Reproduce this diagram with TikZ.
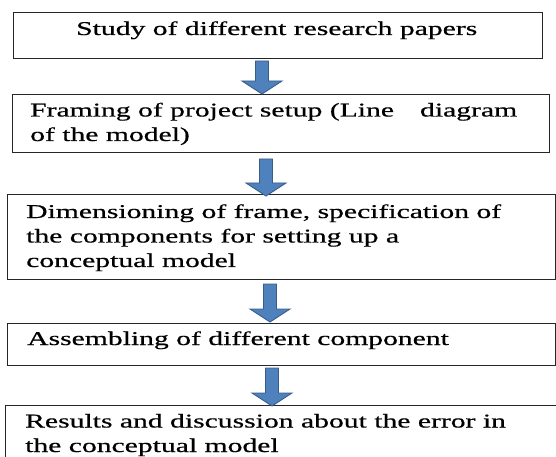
\documentclass[tikz,border=0pt]{standalone}
\usepackage{fontspec}
\setmainfont[FakeStretch=1.52,FakeBold=0.6]{Liberation Serif}
\usetikzlibrary{calc}

\definecolor{arrowblue}{HTML}{4F81BD}
\definecolor{arrowedge}{HTML}{385D8A}

\tikzset{
  stepbox/.style={draw=black!85, line width=1.3bp, inner sep=0pt, anchor=north west},
  % multi-line texts sit on the baseline of their last line
  steptext/.style={anchor=base west, inner sep=0pt, align=left,
    font=\fontsize{19.5bp}{24.5bp}\selectfont},
  blockarrow/.style={fill=arrowblue, draw=arrowedge, line width=0.9bp, line join=miter}
}

% thick block arrow pointing down, from a start coordinate to its tip
\newcommand\flowarrow[2]{%
  \draw[blockarrow] let \p1=(#1), \p2=(#2) in
    (\x2-6.5bp,\y1) -- (\x2+6.5bp,\y1) -- (\x2+6.5bp,\y2+13bp) -- (\x2+20bp,\y2+13bp)
    -- (\x2,\y2) -- (\x2-20bp,\y2+13bp) -- (\x2-6.5bp,\y2+13bp) -- cycle;
}

\begin{document}
\begin{tikzpicture}[x=1bp,y=-1bp]
  \useasboundingbox (0,0) rectangle (556,457);
  \clip (0,0) rectangle (556,457);

  % process boxes
  \node[stepbox, minimum width=529bp, minimum height=46bp] (b1) at (13,12) {};
  \node[stepbox, minimum width=537bp, minimum height=58bp] (b2) at (12,94) {};
  \node[stepbox, minimum width=548bp, minimum height=85bp] (b3) at (7,194) {};
  \node[stepbox, minimum width=548bp, minimum height=42bp] (b4) at (7,323) {};
  \node[stepbox, minimum width=560bp, minimum height=70bp] (b5) at (5,405) {};

  % box texts
  \node[steptext] (t1) at (76,35) {Study of different research papers};
  \node[steptext] (t2) at (30,141) {Framing of project setup (Line\hspace{26bp}diagram\\of the model)};
  \node[steptext] (t3) at (26,267) {Dimensioning of frame, specification of\\the components for setting up a\\conceptual model};
  \node[steptext] (t4) at (27,345) {Assembling of different component};
  \node[steptext] (t5) at (25,452) {Results and discussion about the error in\\the conceptual model};

  % arrow ends
  \coordinate (a1s) at (262,61);  \coordinate (a1e) at (262,94);
  \coordinate (a2s) at (266,159); \coordinate (a2e) at (266,196);
  \coordinate (a3s) at (270,284); \coordinate (a3e) at (270,322);
  \coordinate (a4s) at (272,368); \coordinate (a4e) at (272,406);

  \flowarrow{a1s}{a1e}
  \flowarrow{a2s}{a2e}
  \flowarrow{a3s}{a3e}
  \flowarrow{a4s}{a4e}
\end{tikzpicture}
\end{document}
